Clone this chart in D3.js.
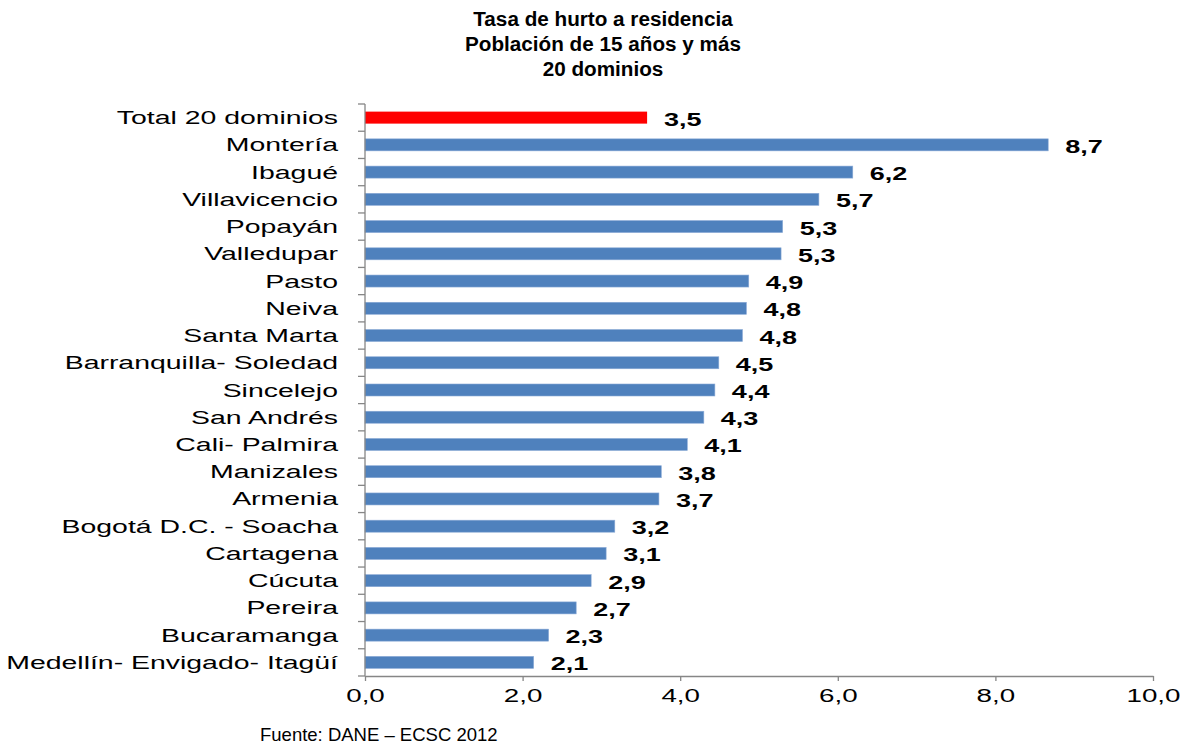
<!DOCTYPE html>
<html>
<head>
<meta charset="utf-8">
<script src="https://cdn.jsdelivr.net/npm/d3@7"></script>
<style>
  html, body { margin: 0; padding: 0; background: #fff; }
  svg { display: block; font-family: "Liberation Sans", Arial, sans-serif; }
</style>
</head>
<body>
<svg id="chart" width="1185" height="744"></svg>
<script>
const titleLines = ["Tasa de hurto a residencia", "Población de 15 años y más", "20 dominios"];
const sourceText = "Fuente: DANE – ECSC 2012";

const categories = [
  "Total 20 dominios", "Montería", "Ibagué", "Villavicencio", "Popayán", "Valledupar",
  "Pasto", "Neiva", "Santa Marta", "Barranquilla- Soledad", "Sincelejo", "San Andrés",
  "Cali- Palmira", "Manizales", "Armenia", "Bogotá D.C. - Soacha", "Cartagena", "Cúcuta",
  "Pereira", "Bucaramanga", "Medellín- Envigado- Itagüí"
];
const values = [
  3.58, 8.67, 6.19, 5.76, 5.30, 5.28,
  4.87, 4.84, 4.79, 4.49, 4.44, 4.30,
  4.09, 3.76, 3.73, 3.17, 3.06, 2.87,
  2.68, 2.33, 2.14
];
const valueLabels = [
  "3,5", "8,7", "6,2", "5,7", "5,3", "5,3",
  "4,9", "4,8", "4,8", "4,5", "4,4", "4,3",
  "4,1", "3,8", "3,7", "3,2", "3,1", "2,9",
  "2,7", "2,3", "2,1"
];
const xTicks = [0, 2, 4, 6, 8, 10];

const svg = d3.select("#chart");
const axisColor = "#868686";
const stretch = 1.58;

const x = d3.scaleLinear().domain([0, 10]).range([365, 1153]);
const y = d3.scaleBand().domain(categories).range([104, 676]).paddingInner(0).paddingOuter(0);
const barH = 12;

const esLocale = d3.formatLocale({decimal: ",", thousands: ".", grouping: [3], currency: ["", ""]});
const fmt = esLocale.format(".1f");

// Title
svg.append("g").selectAll("text").data(titleLines).join("text")
  .attr("x", 603)
  .attr("y", (d, i) => 26 + i * 25)
  .attr("text-anchor", "middle")
  .attr("font-weight", "bold")
  .attr("font-size", "20.7px")
  .attr("fill", "#000")
  .text(d => d);

// Bars
svg.append("g").selectAll("rect").data(categories).join("rect")
  .attr("x", x(0))
  .attr("y", d => y(d) + y.bandwidth() / 2 - barH / 2)
  .attr("width", (d, i) => x(values[i]) - x(0))
  .attr("height", barH)
  .attr("fill", (d, i) => i === 0 ? "#ff0000" : "#4f81bd")
  .attr("stroke", (d, i) => i === 0 ? "none" : "#8aaad6")
  .attr("stroke-width", 0.6);

// Y axis line and ticks at band boundaries
const yAxis = svg.append("g");
yAxis.append("line")
  .attr("x1", x(0)).attr("x2", x(0))
  .attr("y1", y.range()[0]).attr("y2", y.range()[1])
  .attr("stroke", axisColor).attr("stroke-width", 1.3);
const boundaries = categories.map(c => y(c)).concat([y.range()[1]]);
yAxis.selectAll("line.tick").data(boundaries).join("line")
  .attr("class", "tick")
  .attr("x1", x(0) - 7).attr("x2", x(0))
  .attr("y1", d => d).attr("y2", d => d)
  .attr("stroke", axisColor).attr("stroke-width", 1.3);

// Category labels
svg.append("g").selectAll("text").data(categories).join("text")
  .attr("transform", d => `translate(338,${y(d) + y.bandwidth() / 2 + 6.5}) scale(${stretch},1)`)
  .attr("text-anchor", "end")
  .attr("font-size", "18px")
  .attr("fill", "#000")
  .text(d => d);

// Value labels
svg.append("g").selectAll("text").data(categories).join("text")
  .attr("transform", (d, i) => `translate(${x(values[i]) + 17},${y(d) + y.bandwidth() / 2 + 8}) scale(1.5,1)`)
  .attr("text-anchor", "start")
  .attr("font-size", "18px")
  .attr("font-weight", "bold")
  .attr("fill", "#000")
  .text((d, i) => valueLabels[i]);

// X axis
const xAxisG = svg.append("g")
  .attr("transform", `translate(0,${y.range()[1]})`)
  .call(d3.axisBottom(x).tickValues(xTicks).tickSize(5).tickSizeOuter(0).tickPadding(8).tickFormat(fmt));
xAxisG.select(".domain").attr("stroke", axisColor).attr("stroke-width", 1.3);
xAxisG.selectAll(".tick line").attr("stroke", axisColor).attr("stroke-width", 1.3);
xAxisG.selectAll(".tick text")
  .attr("fill", "#000")
  .attr("font-size", "18.5px")
  .attr("font-family", "Liberation Sans, Arial, sans-serif")
  .attr("transform", "scale(1.5,1)");

// Source
svg.append("text")
  .attr("x", 260)
  .attr("y", 741)
  .attr("font-size", "18.5px")
  .attr("fill", "#000")
  .text(sourceText);
</script>
</body>
</html>
